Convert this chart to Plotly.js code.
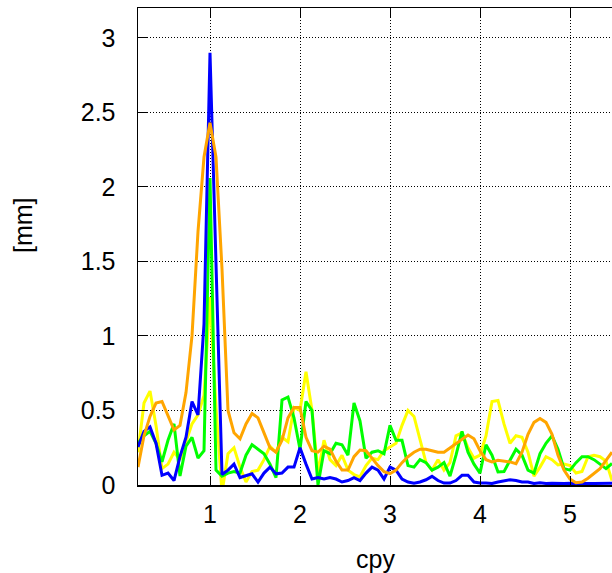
<!DOCTYPE html>
<html>
<head>
<meta charset="utf-8">
<script src="https://cdn.plot.ly/plotly-3.0.1.min.js"></script>
<style>html,body{margin:0;padding:0;background:#fff;overflow:hidden}</style>
</head>
<body>
<div id="chart" style="width:612px;height:573px"></div>
<script>
// frequency axis (cycles per year)
const cpy = [
 0.2000, 0.2667, 0.3333, 0.4000, 0.4667, 0.5333, 0.6000, 0.6667, 0.7333, 0.8000,
 0.8667, 0.9333, 1.0000, 1.0667, 1.1333, 1.2000, 1.2667, 1.3333, 1.4000, 1.4667,
 1.5333, 1.6000, 1.6667, 1.7333, 1.8000, 1.8667, 1.9333, 2.0000, 2.0667, 2.1333,
 2.2000, 2.2667, 2.3333, 2.4000, 2.4667, 2.5333, 2.6000, 2.6667, 2.7333, 2.8000,
 2.8667, 2.9333, 3.0000, 3.0667, 3.1333, 3.2000, 3.2667, 3.3333, 3.4000, 3.4667,
 3.5333, 3.6000, 3.6667, 3.7333, 3.8000, 3.8667, 3.9333, 4.0000, 4.0667, 4.1333,
 4.2000, 4.2667, 4.3333, 4.4000, 4.4667, 4.5333, 4.6000, 4.6667, 4.7333, 4.8000,
 4.8667, 4.9333, 5.0000, 5.0667, 5.1333, 5.2000, 5.2667, 5.3333, 5.4000, 5.4667
];

const yellowSeries = [
 0.22, 0.55, 0.63, 0.40, 0.11, 0.14, 0.22, 0.17, 0.29, 0.41,
 0.47, 0.60, 1.26, 0.52, -0.05, 0.21, 0.25, 0.12, 0.02, 0.09,
 0.10, 0.17, 0.26, 0.22, 0.32, 0.29, 0.52, 0.50, 0.76, 0.50,
 0.08, 0.30, 0.17, 0.13, 0.20, 0.10, 0.07, 0.055, 0.13, 0.18,
 0.17, 0.23, 0.255, 0.28, 0.40, 0.50, 0.46, 0.30, 0.15, 0.10,
 0.17, 0.10, 0.15, 0.33, 0.35, 0.25, 0.18, 0.20, 0.33, 0.56,
 0.567, 0.41, 0.28, 0.33, 0.32, 0.22, 0.06, 0.12, 0.19, 0.17,
 0.135, 0.14, 0.13, 0.08, 0.09, 0.19, 0.20, 0.19, 0.16, 0.03
];

const greenSeries = [
 0.28, 0.33, 0.36, 0.28, 0.155, 0.30, 0.41, 0.06, 0.26, 0.32,
 0.18, 0.23, 2.06, 0.10, 0.06, 0.08, 0.09, 0.08, 0.20, 0.27,
 0.24, 0.21, 0.14, 0.05, 0.57, 0.59, 0.45, 0.24, 0.56, 0.50,
 0.00, 0.23, 0.21, 0.28, 0.27, 0.20, 0.55, 0.43, 0.18, 0.22,
 0.23, 0.21, 0.40, 0.30, 0.30, 0.13, 0.12, 0.17, 0.15, 0.10,
 0.12, 0.15, 0.06, 0.20, 0.36, 0.22, 0.14, 0.08, 0.27, 0.20,
 0.087, 0.09, 0.166, 0.24, 0.20, 0.10, 0.08, 0.21, 0.28, 0.33,
 0.24, 0.11, 0.10, 0.15, 0.19, 0.19, 0.17, 0.14, 0.11, 0.145
];

const blueSeries = [
 0.255, 0.36, 0.39, 0.28, 0.065, 0.08, 0.03, 0.19, 0.32, 0.56,
 0.47, 1.08, 2.90, 1.45, 0.07, 0.10, 0.14, 0.05, 0.065, 0.075,
 0.02, 0.08, 0.12, 0.075, 0.08, 0.12, 0.12, 0.25, 0.14, 0.04,
 0.05, 0.04, 0.05, 0.04, 0.02, 0.03, 0.05, 0.03, 0.08, 0.12,
 0.10, 0.04, 0.12, 0.10, 0.04, 0.02, 0.012, 0.02, 0.035, 0.058,
 0.03, 0.013, 0.013, 0.03, 0.065, 0.065, 0.02, 0.013, 0.013, 0.01,
 0.02, 0.03, 0.035, 0.03, 0.02, 0.02, 0.01, 0.015, 0.01, 0.012,
 0.01, 0.01, 0.012, 0.01, 0.008, 0.01, 0.01, 0.012, 0.012, 0.012
];

const orangeSeries = [
 0.12, 0.33, 0.46, 0.55, 0.56, 0.46, 0.37, 0.40, 0.62, 1.00,
 1.70, 2.20, 2.43, 2.20, 1.45, 0.50, 0.35, 0.31, 0.41, 0.48,
 0.45, 0.35, 0.25, 0.22, 0.30, 0.45, 0.52, 0.52, 0.32, 0.23,
 0.22, 0.26, 0.24, 0.16, 0.10, 0.10, 0.19, 0.235, 0.23, 0.18,
 0.13, 0.09, 0.076, 0.10, 0.15, 0.19, 0.22, 0.24, 0.24, 0.23,
 0.22, 0.22, 0.25, 0.28, 0.31, 0.335, 0.31, 0.23, 0.17, 0.155,
 0.166, 0.16, 0.155, 0.143, 0.22, 0.34, 0.42, 0.446, 0.42, 0.34,
 0.20, 0.10, 0.04, 0.015, 0.02, 0.045, 0.08, 0.11, 0.165, 0.22
];

const xTicks = [1, 2, 3, 4, 5];
const yTicks = [0, 0.5, 1, 1.5, 2, 2.5, 3];
const yTickLabels = ['0', '0.5', '1', '1.5', '2', '2.5', '3'];

const FONT = 'Liberation Sans, Arial, Helvetica, sans-serif';
const FSIZE = 25;

function line(y, color) {
  return {x: cpy, y: y, type: 'scatter', mode: 'lines',
          line: {color: color, width: 3}, hoverinfo: 'skip', showlegend: false};
}

const data = [
  line(yellowSeries, '#ffff00'),
  line(greenSeries, '#00ff00'),
  line(blueSeries, '#0000ff'),
  line(orangeSeries, '#ffa500')
];

const axisCommon = {
  ticks: 'inside', ticklen: 9, tickwidth: 1, tickcolor: '#000',
  showline: true, linecolor: '#000', linewidth: 1.5,
  showgrid: true, gridcolor: '#000', gridwidth: 1, griddash: '1px,2px',
  zeroline: false,
  tickfont: {family: FONT, size: FSIZE, color: '#000'}
};

const layout = {
  width: 612, height: 573,
  margin: {l: 138, r: 0, t: 8, b: 88, pad: 0},
  paper_bgcolor: '#fff', plot_bgcolor: '#fff',
  showlegend: false,
  xaxis: Object.assign({}, axisCommon, {
    range: [0.2, 5.4667], tickmode: 'array', tickvals: xTicks,
    ticktext: xTicks.map(String), mirror: 'ticks', ticklabelstandoff: 6
  }),
  yaxis: Object.assign({}, axisCommon, {
    range: [0, 3.2], tickmode: 'array', tickvals: yTicks,
    ticktext: yTickLabels, mirror: false, ticklabelstandoff: 16
  }),
  annotations: [
    {text: 'cpy', xref: 'paper', yref: 'paper', x: 0.5, y: -0.155,
     xanchor: 'center', yanchor: 'middle', showarrow: false,
     font: {family: FONT, size: FSIZE, color: '#000'}},
    {text: '[mm]', xref: 'paper', yref: 'paper', x: -0.2426, y: 0.545,
     xanchor: 'center', yanchor: 'middle', showarrow: false, textangle: -90,
     font: {family: FONT, size: FSIZE, color: '#000'}}
  ]
};

Plotly.newPlot('chart', data, layout, {displayModeBar: false, staticPlot: true});
</script>
</body>
</html>
